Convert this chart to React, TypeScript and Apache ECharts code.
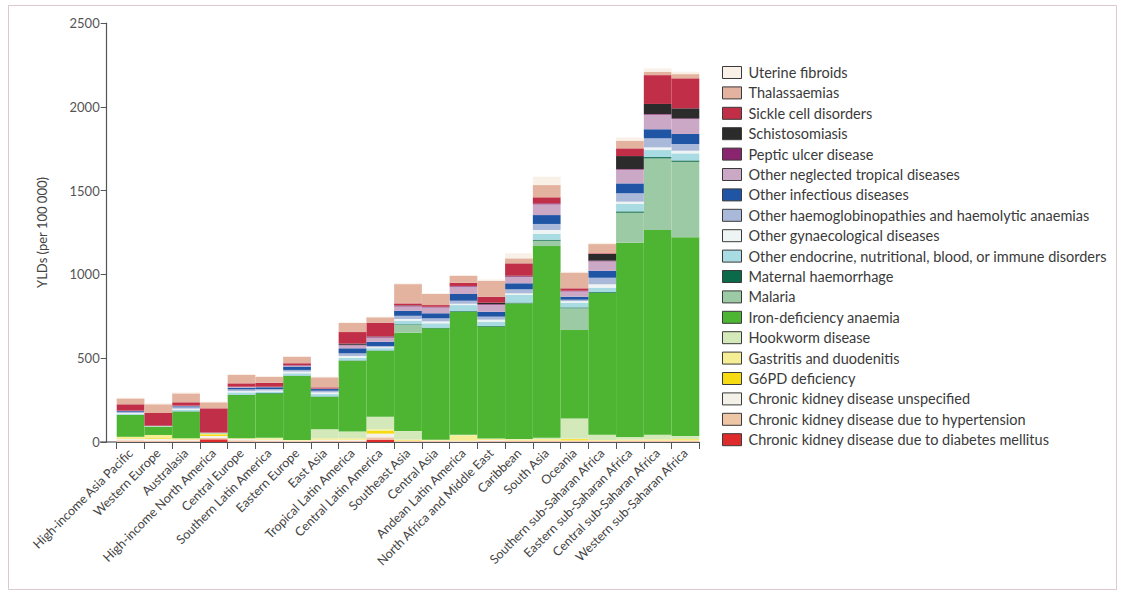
import React, { useEffect, useRef } from "react";
import * as echarts from "echarts";

// Regions, ordered by rising total
const categories = [
  "High-income Asia Pacific",
  "Western Europe",
  "Australasia",
  "High-income North America",
  "Central Europe",
  "Southern Latin America",
  "Eastern Europe",
  "East Asia",
  "Tropical Latin America",
  "Central Latin America",
  "Southeast Asia",
  "Central Asia",
  "Andean Latin America",
  "North Africa and Middle East",
  "Caribbean",
  "South Asia",
  "Oceania",
  "Southern sub-Saharan Africa",
  "Eastern sub-Saharan Africa",
  "Central sub-Saharan Africa",
  "Western sub-Saharan Africa",
];

// YLDs per 100 000, one value per region (stack order: bottom to top)
const ckdDiabetes = [2, 2, 2, 16, 2, 1, 1, 2, 2, 14, 2, 2, 1, 2, 2, 2, 2, 2, 2, 2, 2];
const ckdHypertension = [8, 6, 6, 8, 8, 6, 4, 5, 4, 14, 3, 3, 3, 4, 4, 4, 3, 3, 4, 4, 4];
const ckdUnspecified = [8, 12, 8, 12, 8, 6, 4, 8, 6, 22, 4, 4, 6, 6, 4, 4, 4, 3, 4, 4, 4];
const g6pdDeficiency = [3, 4, 2, 10, 2, 2, 1, 2, 2, 16, 3, 1, 2, 3, 2, 4, 8, 2, 3, 4, 6];
const gastritis = [10, 18, 4, 4, 2, 8, 2, 5, 8, 10, 3, 3, 28, 4, 4, 4, 3, 2, 2, 2, 2];
const hookworm = [0, 0, 0, 0, 0, 2, 0, 54, 40, 74, 50, 0, 4, 2, 2, 8, 120, 32, 15, 28, 18];
const ironDeficiency = [130, 50, 159, 2, 258, 265, 382, 194, 423, 393, 587, 665, 733, 667, 809, 1143, 528, 845, 1159, 1221, 1185];
const malaria = [0, 0, 0, 0, 0, 0, 0, 0, 0, 0, 46, 0, 0, 0, 0, 32, 130, 0, 179, 427, 451];
const maternalHaemorrhage = [1, 0, 2, 0, 2, 2, 2, 2, 2, 3, 4, 4, 4, 4, 5, 6, 5, 5, 8, 8, 8];
const otherEndocrine = [7, 2, 10, 2, 14, 10, 14, 14, 16, 14, 22, 26, 36, 26, 45, 34, 28, 27, 44, 42, 42];
const otherGynaecological = [4, 1, 6, 1, 8, 6, 10, 10, 10, 6, 10, 12, 8, 12, 10, 24, 10, 20, 14, 16, 16];
const otherHaemoglobinopathies = [6, 1, 8, 1, 10, 8, 10, 10, 16, 7, 19, 18, 18, 18, 24, 36, 8, 39, 50, 54, 40];
const otherInfectious = [5, 1, 6, 0, 10, 10, 20, 10, 30, 25, 30, 30, 40, 29, 36, 53, 18, 42, 59, 54, 60];
const otherNtds = [2, 0, 3, 0, 5, 3, 6, 2, 18, 25, 26, 35, 44, 42, 39, 64, 32, 56, 82, 87, 89];
const pepticUlcer = [1, 0, 1, 0, 1, 1, 3, 1, 3, 5, 4, 4, 4, 4, 4, 6, 4, 4, 4, 4, 4];
const schistosomiasis = [0, 0, 0, 0, 0, 0, 0, 0, 7, 2, 2, 0, 0, 8, 2, 0, 0, 40, 77, 60, 60];
const sickleCell = [38, 76, 20, 145, 20, 24, 11, 7, 69, 82, 12, 10, 19, 36, 74, 36, 14, 4, 46, 172, 179];
const thalassaemias = [35, 52, 53, 36, 50, 36, 39, 60, 54, 32, 115, 66, 42, 95, 30, 73, 94, 55, 46, 20, 25];
const uterineFibroids = [4, 6, 6, 4, 6, 4, 4, 4, 4, 4, 5, 4, 4, 8, 30, 50, 5, 8, 19, 20, 14];

const yTicks = [0, 500, 1000, 1500, 2000, 2500];

const causes: { name: string; color: string; values: number[] }[] = [
  { name: "Chronic kidney disease due to diabetes mellitus", color: "#df2b2c", values: ckdDiabetes },
  { name: "Chronic kidney disease due to hypertension", color: "#eec5a5", values: ckdHypertension },
  { name: "Chronic kidney disease unspecified", color: "#f4f1e9", values: ckdUnspecified },
  { name: "G6PD deficiency", color: "#f6da12", values: g6pdDeficiency },
  { name: "Gastritis and duodenitis", color: "#f6ee94", values: gastritis },
  { name: "Hookworm disease", color: "#d3e9b9", values: hookworm },
  { name: "Iron-deficiency anaemia", color: "#4db532", values: ironDeficiency },
  { name: "Malaria", color: "#9ccaa5", values: malaria },
  { name: "Maternal haemorrhage", color: "#0b6a4a", values: maternalHaemorrhage },
  { name: "Other endocrine, nutritional, blood, or immune disorders", color: "#a9dbe3", values: otherEndocrine },
  { name: "Other gynaecological diseases", color: "#eef3f3", values: otherGynaecological },
  { name: "Other haemoglobinopathies and haemolytic anaemias", color: "#aab8d9", values: otherHaemoglobinopathies },
  { name: "Other infectious diseases", color: "#1f55a4", values: otherInfectious },
  { name: "Other neglected tropical diseases", color: "#cba8c6", values: otherNtds },
  { name: "Peptic ulcer disease", color: "#8a246f", values: pepticUlcer },
  { name: "Schistosomiasis", color: "#2b2b2b", values: schistosomiasis },
  { name: "Sickle cell disorders", color: "#c02f47", values: sickleCell },
  { name: "Thalassaemias", color: "#e3b3a0", values: thalassaemias },
  { name: "Uterine fibroids", color: "#f9f0e7", values: uterineFibroids },
];

const FONT = "Lato, 'Open Sans', sans-serif";

export default function App() {
  const ref = useRef<HTMLDivElement>(null);

  useEffect(() => {
    if (!ref.current) return;
    const chart = echarts.init(ref.current, undefined, { renderer: "svg" });

    const gridLeft = 116.7;
    const gridRight = 421.7;
    const gridTop = 23;
    const gridBottom = 151;
    const baseY = 593 - gridBottom;

    chart.setOption({
      animation: false,
      backgroundColor: "#ffffff",
      textStyle: { fontFamily: FONT },
      grid: { left: gridLeft, right: gridRight, top: gridTop, bottom: gridBottom },
      legend: {
        orient: "vertical",
        left: 722,
        top: 65,
        padding: 0,
        itemWidth: 19,
        itemHeight: 12,
        itemGap: 5.4,
        icon: "rect",
        itemStyle: { borderColor: "#3a3a3a", borderWidth: 1 },
        textStyle: { fontSize: 14.5, color: "#3a3a3a", fontFamily: FONT, padding: [0, 0, 0, 2] },
        data: causes.map((c) => c.name).reverse(),
        selectedMode: false,
      },
      xAxis: {
        type: "category",
        data: categories,
        boundaryGap: true,
        axisLine: { lineStyle: { color: "#555", width: 1.2 } },
        axisTick: { show: true, interval: 0, length: 7, lineStyle: { color: "#555" } },
        axisLabel: {
          interval: 0,
          rotate: 45,
          fontSize: 12.5,
          color: "#444",
          margin: 9,
          fontFamily: FONT,
        },
      },
      yAxis: {
        type: "value",
        min: yTicks[0],
        max: yTicks[yTicks.length - 1],
        interval: yTicks[1] - yTicks[0],
        offset: 10,
        name: "YLDs (per 100 000)",
        nameLocation: "middle",
        nameGap: 58,
        nameTextStyle: { fontSize: 13, color: "#444", fontFamily: FONT },
        axisLine: { show: true, lineStyle: { color: "#555", width: 1.2 } },
        axisTick: { show: true, length: 6, lineStyle: { color: "#555" } },
        axisLabel: {
          fontSize: 13,
          color: "#555",
          margin: 7,
          fontFamily: FONT,
          formatter: (v: number) => String(v),
        },
        splitLine: { show: false },
      },
      series: causes.map((c) => ({
        name: c.name,
        type: "bar",
        stack: "total",
        barCategoryGap: "0%",
        barWidth: "100%",
        itemStyle: { color: c.color },
        emphasis: { disabled: true },
        data: c.values,
      })),
      graphic: [
        {
          type: "rect",
          silent: true,
          shape: { x: 8.5, y: 5.5, width: 1108, height: 584 },
          style: { fill: "none", stroke: "#dcc9cd", lineWidth: 1 },
        },
        {
          type: "line",
          silent: true,
          shape: { x1: 100, y1: baseY, x2: gridLeft, y2: baseY },
          style: { stroke: "#555", lineWidth: 1.2 },
        },
      ],
    });

    return () => chart.dispose();
  }, []);

  return (
    <div
      ref={ref}
      style={{ position: "absolute", left: 0, top: 0, width: 1121, height: 593 }}
    />
  );
}
